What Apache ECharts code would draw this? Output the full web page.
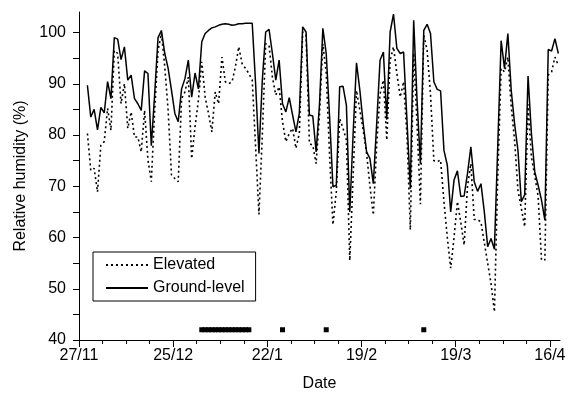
<!DOCTYPE html>
<html>
<head>
<meta charset="utf-8">
<style>
  html, body { margin: 0; padding: 0; background: #fff; }
  #chart { width: 574px; height: 400px; }
</style>
<script src="https://cdn.jsdelivr.net/npm/echarts@6/dist/echarts.min.js"></script>
</head>
<body>
<div id="chart"></div>
<script>
/* ===== data ===== */
// x is days after 27/11; daily values are plotted at mid-day
const firstDay = 2.5;

const tickDays = [0, 28, 56, 84, 112, 140];
const tickLabels = ['27/11', '25/12', '22/1', '19/2', '19/3', '16/4'];

const elevated = [
  80.3, 73.1, 73.5, 68.9, 78, 78.7, 85.2, 80.9, 96.5, 95.9,
  86.1, 90, 81.3, 84.5, 79.6, 79.6, 76.7, 84.8, 75.1, 70.9,
  84.8, 96.5, 99.8, 93.3, 84.8, 72.2, 71.5, 70.9, 87.1, 88.4,
  91.3, 75.4, 81.6, 86.8, 94.3, 87.4, 84.2, 80.6, 88.4, 86.1,
  95.2, 90.4, 90, 90.4, 93.3, 97.2, 93.9, 93, 92, 90.7,
  77.7, 64.5, 80, 97.8, 97.5, 91.3, 87.8, 89.4, 82.6, 78.7,
  80.3, 81.3, 77.4, 80.3, 100.1, 99.5, 78.3, 78, 74.4, 84,
  97.8, 92, 76, 62.5, 69, 83.2, 81.3, 79, 55.5, 72,
  88.7, 84.8, 80.9, 76.4, 70, 64.4, 78, 88, 90.7, 79,
  94.6, 97.2, 92, 87.4, 90.4, 80, 61.5, 96, 82, 66.5,
  99.5, 96.5, 88, 75, 74.8, 75.1, 67, 60, 54, 60,
  67, 63, 58.5, 70, 74.4, 63.5, 63.5, 63, 59, 55,
  51, 45.5, 72, 93, 92.3, 95.2, 85.5, 79, 69.2, 65.7,
  62.1, 86, 75.7, 72, 68, 55.6, 55.6, 91.7, 92.3, 95.2,
  93.6
];

const groundLevel = [
  89.7, 83.5, 85, 81, 85.4, 84.3, 90.4, 87.1, 99, 98.7,
  94.7, 97.2, 90.7, 91.7, 87.1, 86.1, 84.8, 92.5, 92, 77.9,
  88, 99, 100.4, 95.9, 93, 88.7, 84.2, 82.6, 89, 91,
  94.6, 87.4, 92.1, 89, 98.2, 99.8, 100.4, 100.9, 101.1, 101.4,
  101.6, 101.7, 101.6, 101.4, 101.5, 101.7, 101.7, 101.8, 101.8, 101.8,
  90, 76.4, 90.7, 100.1, 100.6, 95.9, 90.7, 94.6, 86.1, 84.5,
  87.3, 83.9, 80.6, 84.2, 101.1, 100.1, 83.9, 83.7, 76.7, 86,
  100.8, 95.9, 83.5, 69.9, 70.2, 89.4, 89.5, 85.8, 65, 80.3,
  94.1, 88.7, 82.2, 76.7, 75.4, 70.5, 82.2, 94.6, 96.2, 83,
  100.1, 103.6, 96.9, 95.9, 96.2, 82.9, 69.5, 102.4, 86.8, 74.4,
  100.4, 101.6, 99.8, 90.4, 88.9, 88.6, 77, 74.1, 65, 71.2,
  73, 68, 68.1, 72.5, 77.7, 70.9, 69, 70.5, 65, 58.2,
  59.8, 57.7, 78, 98.4, 93, 99.8, 88.7, 82.2, 77, 67,
  68.3, 91.5, 80.3, 72.8, 70.2, 67.3, 63.4, 96.7, 96.4, 98.8,
  95.9
];

// black squares along the bottom
const markerDays = [
  36.5, 37.5, 38.5, 39.5, 40.5, 41.5, 42.5, 43.5, 44.5, 45.5,
  46.5, 47.5, 48.5, 49.5, 50.5, 60.5, 73.5, 102.5
];
const markerLevel = 42;

/* ===== chart ===== */
const chart = echarts.init(document.getElementById('chart'));
const FONT = "'Liberation Sans', Arial, sans-serif";

const toPoints = arr => arr.map((v, i) => [firstDay + i, v]);

const weekTicks = [];
for (let d = 0; d <= 140; d += 7) weekTicks.push(d);

chart.setOption({
  animation: false,
  backgroundColor: '#fff',
  textStyle: { fontFamily: FONT, color: '#000' },
  grid: { left: 79, top: 12, width: 481, height: 328 },

  legend: {
    data: ['Elevated', 'Ground-level'],
    orient: 'vertical',
    left: 93,
    top: 252,
    itemWidth: 42,
    itemHeight: 16,
    itemGap: 7,
    padding: [5, 11, 5, 12],
    borderColor: '#000',
    borderWidth: 1,
    // only the line sample, no symbol in the middle
    itemStyle: { color: 'rgba(0,0,0,0)', borderColor: 'rgba(0,0,0,0)', borderWidth: 0 },
    textStyle: { fontFamily: FONT, fontSize: 16, color: '#000' }
  },

  xAxis: [{
    type: 'value',
    min: 0,
    max: 143,
    name: 'Date',
    nameLocation: 'middle',
    nameGap: 36,
    nameTextStyle: { fontSize: 16, color: '#000' },
    splitLine: { show: false },
    axisLine: { lineStyle: { color: '#000', width: 1 } },
    axisTick: { customValues: weekTicks, length: 4, lineStyle: { color: '#000' } },
    axisLabel: {
      customValues: tickDays,
      margin: 8,
      fontSize: 16,
      color: '#000',
      formatter: v => tickLabels[tickDays.indexOf(v)]
    }
  }, {
    // longer ticks under the dated positions
    type: 'value',
    min: 0,
    max: 143,
    position: 'bottom',
    splitLine: { show: false },
    axisLine: { show: false },
    axisLabel: { show: false },
    axisTick: { customValues: tickDays, length: 7, lineStyle: { color: '#000' } }
  }],

  yAxis: {
    type: 'value',
    min: 40,
    max: 104,
    interval: 5,
    name: 'Relative humidity (%)',
    nameLocation: 'middle',
    nameGap: 48,
    nameTextStyle: { fontSize: 16, color: '#000' },
    splitLine: { show: false },
    axisLine: { show: true, lineStyle: { color: '#000', width: 1 } },
    axisTick: {
      show: true,
      customValues: [40, 45, 50, 55, 60, 65, 70, 75, 80, 85, 90, 95, 100],
      length: 6,
      lineStyle: { color: '#000' }
    },
    axisLabel: {
      customValues: [40, 50, 60, 70, 80, 90, 100],
      margin: 13,
      fontSize: 16,
      color: '#000'
    }
  },

  series: [{
    name: 'Elevated',
    type: 'line',
    data: toPoints(elevated),
    symbol: 'none',
    lineStyle: { color: '#000', width: 1.6, type: [2, 3] },
    itemStyle: { color: '#000' }
  }, {
    name: 'Ground-level',
    type: 'line',
    data: toPoints(groundLevel),
    symbol: 'none',
    lineStyle: { color: '#000', width: 1.5, type: 'solid' },
    itemStyle: { color: '#000' }
  }, {
    name: 'Markers',
    type: 'scatter',
    data: markerDays.map(d => [d, markerLevel]),
    symbol: 'rect',
    symbolSize: [5, 5],
    itemStyle: { color: '#000', opacity: 1, borderWidth: 0 }
  }]
});
</script>
</body>
</html>
